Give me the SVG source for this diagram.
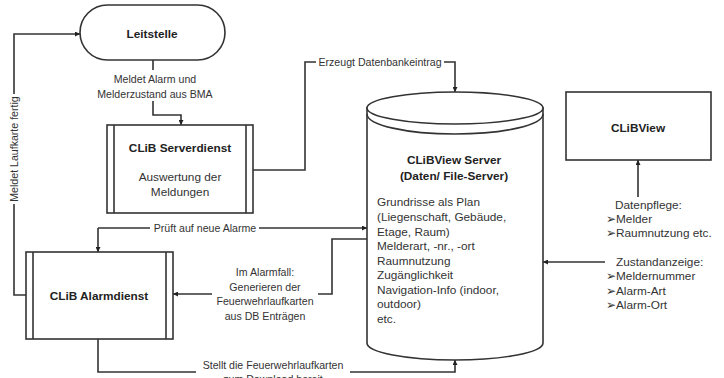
<svg xmlns="http://www.w3.org/2000/svg" width="724" height="378" viewBox="0 0 724 378">
<style>
.shape{fill:#fff;stroke:#333;stroke-width:1.6}
.line{fill:none;stroke:#333;stroke-width:1.6}
.bold{font-family:"Liberation Sans",Arial,sans-serif;font-weight:bold;font-size:11.8px;fill:#222}
.txt{font-family:"Liberation Sans",Arial,sans-serif;font-size:11.8px;fill:#333}
.lbl{font-family:"Liberation Sans",Arial,sans-serif;font-size:10.6px;fill:#333}
.bg{fill:#fff}
</style>
<defs>
<marker id="arr" viewBox="0 0 10 10" refX="10" refY="5" markerWidth="5" markerHeight="5" orient="auto" markerUnits="userSpaceOnUse">
<path d="M0,0 L10,5 L0,10 z" fill="#222"/>
</marker>
</defs>
<rect width="724" height="378" fill="#fff"/>
<g id="connectors">
<path class="line" d="M153,60 V115 H181 V125" marker-end="url(#arr)"/>
<path class="line" d="M253,170 H305 V62 H455 V92" marker-end="url(#arr)"/>
<path class="line" d="M98,228 H367" marker-end="url(#arr)"/>
<path class="line" d="M98,228 V252" marker-end="url(#arr)"/>
<path class="line" d="M367,239 H332 V294 H173" marker-end="url(#arr)"/>
<path class="line" d="M26,295 H14 V34 H80" marker-end="url(#arr)"/>
<path class="line" d="M98,339 V372 H455 V360" marker-end="url(#arr)"/>
<path class="line" d="M605,262 H543" marker-end="url(#arr)"/>
<path class="line" d="M638,197 V160" marker-end="url(#arr)"/>
<rect class="bg" x="104" y="70" width="106" height="31"/>
<text class="lbl" text-anchor="middle" x="155" y="83">Meldet Alarm und</text>
<text class="lbl" text-anchor="middle" x="155" y="98">Melderzustand aus BMA</text>
<rect class="bg" x="316" y="56" width="128" height="12"/>
<text class="lbl" text-anchor="middle" x="380" y="66">Erzeugt Datenbankeintrag</text>
<rect class="bg" x="150" y="222" width="109" height="12"/>
<text class="lbl" text-anchor="middle" x="205" y="232">Prüft auf neue Alarme</text>
<rect class="bg" x="212" y="264" width="106" height="58"/>
<text class="lbl" text-anchor="middle" x="265" y="276">Im Alarmfall:</text>
<text class="lbl" text-anchor="middle" x="265" y="291">Generieren der</text>
<text class="lbl" text-anchor="middle" x="265" y="305">Feuerwehrlaufkarten</text>
<text class="lbl" text-anchor="middle" x="265" y="320">aus DB Enträgen</text>
<rect class="bg" x="6" y="94" width="16" height="110"/>
<text class="lbl" text-anchor="middle" transform="translate(17.5,149) rotate(-90)">Meldet Laufkarte fertig</text>
<rect class="bg" x="196" y="358" width="154" height="22"/>
<text class="lbl" text-anchor="middle" x="273" y="369">Stellt die Feuerwehrlaufkarten</text>
<text class="lbl" text-anchor="middle" x="273" y="383">zum Download bereit</text>
</g>
<g id="leitstelle">
<rect class="shape" x="80" y="5" width="145" height="55" rx="27.5"/>
<text class="bold" text-anchor="middle" x="152" y="38">Leitstelle</text>
</g>
<g id="serverdienst">
<rect class="shape" x="107" y="125" width="146" height="88"/>
<path class="line" d="M114,125 V213 M246,125 V213"/>
<text class="bold" text-anchor="middle" x="180" y="152">CLiB Serverdienst</text>
<text class="txt" text-anchor="middle" x="180" y="181">Auswertung der</text>
<text class="txt" text-anchor="middle" x="180" y="196">Meldungen</text>
</g>
<g id="alarmdienst">
<rect class="shape" x="26" y="252" width="147" height="87"/>
<path class="line" d="M33,252 V339 M166,252 V339"/>
<text class="bold" text-anchor="middle" x="99" y="300">CLiB Alarmdienst</text>
</g>
<g id="server">
<path class="shape" d="M367,108 V343 A88,17 0 0 0 543,343 V108 Z"/>
<ellipse class="shape" cx="455" cy="108" rx="88" ry="16"/>
<path class="line" d="M367,114 A88,20 0 0 0 543,114"/>
<text class="bold" text-anchor="middle" x="454" y="164">CLiBView Server</text>
<text class="bold" text-anchor="middle" x="454" y="180">(Daten/ File-Server)</text>
<text class="txt" x="377" y="206">Grundrisse als Plan</text>
<text class="txt" x="377" y="221">(Liegenschaft, Gebäude,</text>
<text class="txt" x="377" y="236">Etage, Raum)</text>
<text class="txt" x="377" y="250">Melderart, -nr., -ort</text>
<text class="txt" x="377" y="265">Raumnutzung</text>
<text class="txt" x="377" y="279">Zugänglichkeit</text>
<text class="txt" x="377" y="294">Navigation-Info (indoor,</text>
<text class="txt" x="377" y="308">outdoor)</text>
<text class="txt" x="377" y="323">etc.</text>
</g>
<g id="clibview">
<rect class="shape" x="566" y="92" width="145" height="68"/>
<text class="bold" text-anchor="middle" x="638" y="132">CLiBView</text>
</g>
<g id="datenpflege">
<text class="txt" x="615" y="209">Datenpflege:</text>
<text class="txt" x="606" y="223">➢Melder</text>
<text class="txt" x="606" y="237">➢Raumnutzung etc.</text>
</g>
<g id="zustandanzeige">
<text class="txt" x="616" y="266">Zustandanzeige:</text>
<text class="txt" x="606" y="280">➢Meldernummer</text>
<text class="txt" x="606" y="295">➢Alarm-Art</text>
<text class="txt" x="606" y="309">➢Alarm-Ort</text>
</g>
</svg>
